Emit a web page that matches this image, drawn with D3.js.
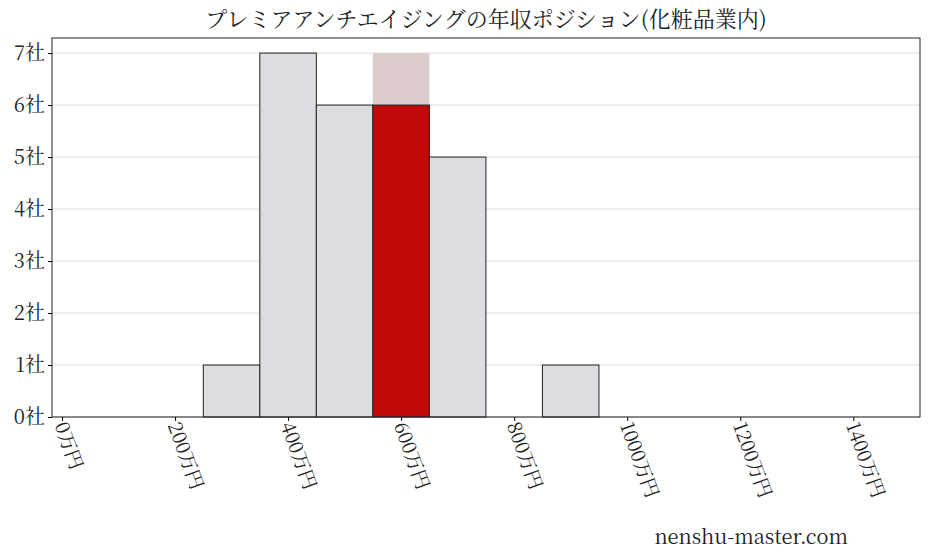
<!DOCTYPE html>
<html><head><meta charset="utf-8">
<script src="https://cdn.jsdelivr.net/npm/d3@7"></script>
<style>body{margin:0;background:#fff}text{font-family:"Noto Serif CJK JP","Noto Sans CJK JP",serif}</style>
</head><body><svg id="c" width="928" height="557"></svg>
<script>
const bins=[300,400,500,600,700,900];
const counts=[1,7,6,6,5,1];
const highlightBin=600, highlightBg=7;
const xTicks=[0,200,400,600,800,1000,1200,1400];
const yTicks=[0,1,2,3,4,5,6,7];
const svg=d3.select("#c");
const L=52,R=920,T=38,B=417;
const x=d3.scaleLinear().domain([-17.7,1518]).range([L,R]);
const y=d3.scaleLinear().domain([0,7.29]).range([B,T]);
const g=svg.append("g");
g.selectAll("line.g").data(yTicks).join("line").attr("x1",L).attr("x2",R)
 .attr("y1",d=>y(d)).attr("y2",d=>y(d)).attr("stroke","#ddd").attr("stroke-width",1);
g.append("rect").attr("x",x(highlightBin-50)).attr("width",x(highlightBin+50)-x(highlightBin-50))
 .attr("y",y(highlightBg)).attr("height",y(0)-y(highlightBg)).attr("fill","#dccccc");
g.selectAll("rect.b").data(bins).join("rect")
 .attr("x",d=>x(d-50)).attr("width",d=>x(d+50)-x(d-50))
 .attr("y",(d,i)=>y(counts[i])).attr("height",(d,i)=>y(0)-y(counts[i]))
 .attr("fill",d=>d===highlightBin?"#c00a0a":"#dcdde0").attr("stroke","#222").attr("stroke-width",1);
svg.append("rect").attr("x",L).attr("y",T).attr("width",R-L).attr("height",B-T).attr("fill","none").attr("stroke","#222");
const ya=svg.append("g").attr("transform",`translate(${L},0)`).call(d3.axisLeft(y).tickValues(yTicks).tickFormat(d=>d+"社").tickSize(4));
ya.select(".domain").remove();
ya.selectAll("text").attr("font-size",20).attr("fill","#222");
const xa=svg.append("g").attr("transform",`translate(0,${B})`).call(d3.axisBottom(x).tickValues(xTicks).tickFormat(d=>d+"万円").tickSize(4));
xa.select(".domain").remove();
xa.selectAll("text").attr("font-size",19).attr("fill","#222").attr("text-anchor","start")
 .attr("transform","translate(-8,8) rotate(70)").attr("dy","0").attr("y",0);
svg.append("text").attr("x",486).attr("y",27).attr("text-anchor","middle").attr("font-size",22).attr("fill","#222")
 .text("プレミアアンチエイジングの年収ポジション(化粧品業内)");
svg.append("text").attr("x",848).attr("y",544).attr("text-anchor","end").attr("font-size",20).attr("fill","#222").text("nenshu-master.com");
</script></body></html>
